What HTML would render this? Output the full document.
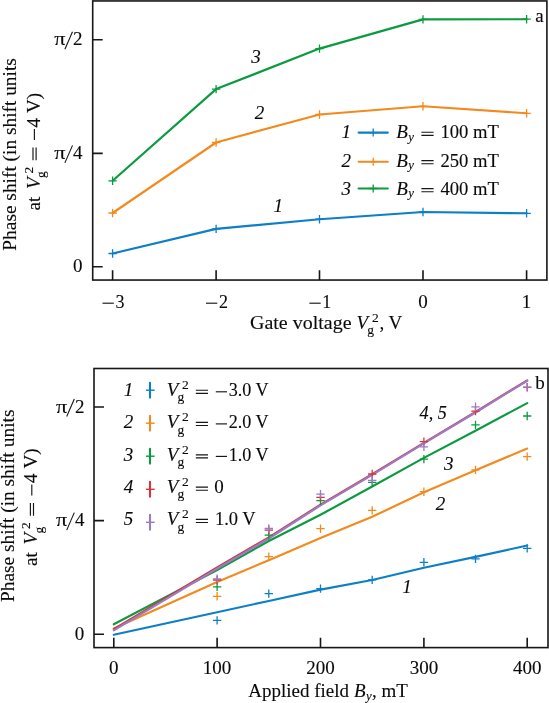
<!DOCTYPE html>
<html><head><meta charset="utf-8"><title>Phase shift</title>
<style>html,body{margin:0;padding:0;background:#fff}svg{display:block;will-change:transform}text{font-family:"Liberation Serif",serif;fill:#0a0a0a;stroke:#0a0a0a;stroke-width:.12px}.i{font-style:italic}</style></head><body>
<svg width="549" height="703" viewBox="0 0 549 703">
<rect x="92.7" y="0.95" width="454.2" height="279.1" fill="none" stroke="#161616" stroke-width="1.6"/>
<path d="M112.6 280.0V270.2M216.1 280.0V270.2M319.5 280.0V270.2M423.0 280.0V270.2M526.6 280.0V270.2M92.7 39.7H102.7M92.7 153.4H102.7M92.7 266.8H102.7" stroke="#161616" stroke-width="1.6" fill="none"/>
<path d="M102.5 303.2h11.3" stroke="#161616" stroke-width="1.15" fill="none"/>
<text x="115.4" y="307.6" font-size="19" textLength="9.0" lengthAdjust="spacingAndGlyphs">3</text>
<path d="M206.0 303.2h11.3" stroke="#161616" stroke-width="1.15" fill="none"/>
<text x="218.9" y="307.6" font-size="19" textLength="9.0" lengthAdjust="spacingAndGlyphs">2</text>
<path d="M309.4 303.2h11.3" stroke="#161616" stroke-width="1.15" fill="none"/>
<text x="322.3" y="307.6" font-size="19" textLength="9.0" lengthAdjust="spacingAndGlyphs">1</text>
<text x="423.0" y="307.6" font-size="19" text-anchor="middle">0</text>
<text x="526.6" y="307.6" font-size="19" text-anchor="middle">1</text>
<text x="54.3" y="45.3" font-size="19" textLength="11.2" lengthAdjust="spacingAndGlyphs">π</text><path d="M64.9 49.2L72.5 31.7" stroke="#161616" stroke-width="1.1" fill="none"/><text x="82.6" y="45.3" font-size="19" text-anchor="end">2</text>
<text x="54.3" y="159.0" font-size="19" textLength="11.2" lengthAdjust="spacingAndGlyphs">π</text><path d="M64.9 162.9L72.5 145.4" stroke="#161616" stroke-width="1.1" fill="none"/><text x="82.6" y="159.0" font-size="19" text-anchor="end">4</text>
<text x="82.4" y="272.4" font-size="19" text-anchor="end">0</text>
<polyline points="112.6,253.5 216.1,228.9 319.5,219.2 423.0,212.0 526.6,213.3" stroke="#0c7fc6" stroke-width="2.15" fill="none" stroke-linejoin="round" stroke-linecap="round"/>
<path d="M108.4 253.5H116.8M112.6 249.3V257.7" stroke="#0c7fc6" stroke-width="1.3" fill="none"/>
<path d="M211.9 228.9H220.3M216.1 224.7V233.1" stroke="#0c7fc6" stroke-width="1.3" fill="none"/>
<path d="M315.3 219.2H323.7M319.5 215.0V223.4" stroke="#0c7fc6" stroke-width="1.3" fill="none"/>
<path d="M418.8 212.0H427.2M423.0 207.8V216.2" stroke="#0c7fc6" stroke-width="1.3" fill="none"/>
<path d="M522.4 213.3H530.8M526.6 209.1V217.5" stroke="#0c7fc6" stroke-width="1.3" fill="none"/>
<polyline points="112.6,213.0 216.1,142.5 319.5,114.5 423.0,106.3 526.6,113.3" stroke="#f28a1e" stroke-width="2.15" fill="none" stroke-linejoin="round" stroke-linecap="round"/>
<path d="M108.4 213.0H116.8M112.6 208.8V217.2" stroke="#f28a1e" stroke-width="1.3" fill="none"/>
<path d="M211.9 142.5H220.3M216.1 138.3V146.7" stroke="#f28a1e" stroke-width="1.3" fill="none"/>
<path d="M315.3 114.5H323.7M319.5 110.3V118.7" stroke="#f28a1e" stroke-width="1.3" fill="none"/>
<path d="M418.8 106.3H427.2M423.0 102.1V110.5" stroke="#f28a1e" stroke-width="1.3" fill="none"/>
<path d="M522.4 113.3H530.8M526.6 109.1V117.5" stroke="#f28a1e" stroke-width="1.3" fill="none"/>
<polyline points="112.6,180.8 216.1,89.1 319.5,48.6 423.0,19.4 526.6,19.2" stroke="#0b9a3f" stroke-width="2.15" fill="none" stroke-linejoin="round" stroke-linecap="round"/>
<path d="M108.4 180.8H116.8M112.6 176.6V185.0" stroke="#0b9a3f" stroke-width="1.3" fill="none"/>
<path d="M211.9 89.1H220.3M216.1 84.9V93.3" stroke="#0b9a3f" stroke-width="1.3" fill="none"/>
<path d="M315.3 48.6H323.7M319.5 44.4V52.8" stroke="#0b9a3f" stroke-width="1.3" fill="none"/>
<path d="M418.8 19.4H427.2M423.0 15.2V23.6" stroke="#0b9a3f" stroke-width="1.3" fill="none"/>
<path d="M522.4 19.2H530.8M526.6 15.0V23.4" stroke="#0b9a3f" stroke-width="1.3" fill="none"/>
<text x="256.1" y="62.8" font-size="19" class="i" text-anchor="middle">3</text>
<text x="259.5" y="118.5" font-size="19" class="i" text-anchor="middle">2</text>
<text x="278.2" y="211.5" font-size="19" class="i" text-anchor="middle">1</text>
<text x="535.2" y="21.5" font-size="19">a</text>
<text x="346.2" y="138.2" font-size="19" class="i" text-anchor="middle">1</text>
<path d="M358.6 132.6H387.8" stroke="#0c7fc6" stroke-width="2.05" stroke-linecap="round"/>
<path d="M369.2 132.6H377.2M373.2 128.6V136.6" stroke="#0c7fc6" stroke-width="1.3" fill="none"/>
<text x="396.2" y="138.2" font-size="19" class="i">B</text><text x="408.2" y="140.8" font-size="12.8" class="i">y</text>
<path d="M421.4 132.2h12.2M421.4 135.3h12.2" stroke="#161616" stroke-width="1.15" fill="none"/>
<text x="440.4" y="138.2" font-size="19" textLength="58.4" lengthAdjust="spacingAndGlyphs">100 mT</text>
<text x="346.2" y="166.6" font-size="19" class="i" text-anchor="middle">2</text>
<path d="M358.6 161.7H387.8" stroke="#f28a1e" stroke-width="2.05" stroke-linecap="round"/>
<path d="M369.2 161.7H377.2M373.2 157.7V165.7" stroke="#f28a1e" stroke-width="1.3" fill="none"/>
<text x="396.2" y="166.6" font-size="19" class="i">B</text><text x="408.2" y="169.2" font-size="12.8" class="i">y</text>
<path d="M421.4 160.6h12.2M421.4 163.7h12.2" stroke="#161616" stroke-width="1.15" fill="none"/>
<text x="440.4" y="166.6" font-size="19" textLength="58.4" lengthAdjust="spacingAndGlyphs">250 mT</text>
<text x="346.2" y="194.6" font-size="19" class="i" text-anchor="middle">3</text>
<path d="M358.6 188.5H387.8" stroke="#0b9a3f" stroke-width="2.05" stroke-linecap="round"/>
<path d="M369.2 188.5H377.2M373.2 184.5V192.5" stroke="#0b9a3f" stroke-width="1.3" fill="none"/>
<text x="396.2" y="194.6" font-size="19" class="i">B</text><text x="408.2" y="197.2" font-size="12.8" class="i">y</text>
<path d="M421.4 188.6h12.2M421.4 191.7h12.2" stroke="#161616" stroke-width="1.15" fill="none"/>
<text x="440.4" y="194.6" font-size="19" textLength="58.4" lengthAdjust="spacingAndGlyphs">400 mT</text>
<text x="250.0" y="329.0" font-size="19" textLength="101.5" lengthAdjust="spacingAndGlyphs">Gate voltage</text>
<text x="356.5" y="329.0" font-size="19" class="i" textLength="11.6" lengthAdjust="spacingAndGlyphs">V</text><text x="367.3" y="334.2" font-size="13.5">g</text><text x="371.9" y="322.0" font-size="13.5">2</text>
<text x="379.4" y="329.0" font-size="19">, V</text>
<g transform="translate(0 154.4) rotate(-90)"><text x="0.0" y="16.3" font-size="19" text-anchor="middle" textLength="192.5" lengthAdjust="spacingAndGlyphs">Phase shift (in shift units</text></g><g transform="translate(0 153.8) rotate(-90)"><text x="-56.7" y="39.9" font-size="19">at</text><text x="-35.1" y="39.9" font-size="19" class="i" textLength="11.6" lengthAdjust="spacingAndGlyphs">V</text><text x="-24.3" y="45.1" font-size="13.5">g</text><text x="-19.7" y="32.9" font-size="13.5">2</text><path d="M-6.4 33.0h12.6M-6.4 36.1h12.6" stroke="#161616" stroke-width="1.15" fill="none"/><path d="M13.9 34.4h10.8" stroke="#161616" stroke-width="1.15" fill="none"/><text x="26.4" y="39.9" font-size="19">4</text><text x="40.9" y="39.9" font-size="19">V)</text></g>
<rect x="94.0" y="368.5" width="454.0" height="279.1" fill="none" stroke="#161616" stroke-width="1.6"/>
<path d="M113.8 647.6V637.8M217.1 647.6V637.8M320.5 647.6V637.8M423.9 647.6V637.8M527.2 647.6V637.8M94.0 407.0H104.0M94.0 520.6H104.0M94.0 634.3H104.0" stroke="#161616" stroke-width="1.6" fill="none"/>
<text x="113.8" y="674.0" font-size="19" text-anchor="middle">0</text>
<text x="217.1" y="674.0" font-size="19" text-anchor="middle">100</text>
<text x="320.5" y="674.0" font-size="19" text-anchor="middle">200</text>
<text x="423.9" y="674.0" font-size="19" text-anchor="middle">300</text>
<text x="527.2" y="674.0" font-size="19" text-anchor="middle">400</text>
<text x="56.1" y="412.6" font-size="19" textLength="11.2" lengthAdjust="spacingAndGlyphs">π</text><path d="M66.7 416.5L74.3 399.0" stroke="#161616" stroke-width="1.1" fill="none"/><text x="84.4" y="412.6" font-size="19" text-anchor="end">2</text>
<text x="56.1" y="526.2" font-size="19" textLength="11.2" lengthAdjust="spacingAndGlyphs">π</text><path d="M66.7 530.1L74.3 512.6" stroke="#161616" stroke-width="1.1" fill="none"/><text x="84.4" y="526.2" font-size="19" text-anchor="end">4</text>
<text x="84.2" y="639.9" font-size="19" text-anchor="end">0</text>
<polyline points="113.8,634.7 217.1,612.2 268.8,601.0 320.5,589.6 372.2,580.0 423.9,567.7 475.5,556.9 527.2,545.5" stroke="#0c7fc6" stroke-width="2.15" fill="none" stroke-linejoin="round" stroke-linecap="round"/>
<polyline points="113.8,628.4 217.1,582.0 268.8,560.2 320.5,538.0 372.2,516.8 423.9,492.3 475.5,470.2 527.2,448.6" stroke="#f28a1e" stroke-width="2.15" fill="none" stroke-linejoin="round" stroke-linecap="round"/>
<polyline points="113.8,624.3 217.1,570.1 268.8,541.0 320.5,514.8 372.2,486.5 423.9,457.9 475.5,430.8 527.2,403.1" stroke="#0b9a3f" stroke-width="2.15" fill="none" stroke-linejoin="round" stroke-linecap="round"/>
<polyline points="113.8,629.2 217.1,567.4 268.8,537.4 320.5,504.7 372.2,474.2 423.9,442.8 475.5,412.0 527.2,380.3" stroke="#d4373b" stroke-width="2.15" fill="none" stroke-linejoin="round" stroke-linecap="round"/>
<polyline points="113.8,630.3 217.1,568.7 268.8,538.5 320.5,505.4 372.2,474.9 423.9,443.4 475.5,412.5 527.2,380.8" stroke="#9b7bc5" stroke-width="2.15" fill="none" stroke-linejoin="round" stroke-linecap="round"/>
<path d="M212.9 620.4H221.3M217.1 616.2V624.6" stroke="#0c7fc6" stroke-width="1.3" fill="none"/>
<path d="M264.6 593.6H273.0M268.8 589.4V597.8" stroke="#0c7fc6" stroke-width="1.3" fill="none"/>
<path d="M316.3 588.6H324.7M320.5 584.4V592.8" stroke="#0c7fc6" stroke-width="1.3" fill="none"/>
<path d="M368.0 579.9H376.4M372.2 575.7V584.1" stroke="#0c7fc6" stroke-width="1.3" fill="none"/>
<path d="M419.7 562.3H428.1M423.9 558.1V566.5" stroke="#0c7fc6" stroke-width="1.3" fill="none"/>
<path d="M471.3 558.9H479.7M475.5 554.7V563.1" stroke="#0c7fc6" stroke-width="1.3" fill="none"/>
<path d="M523.0 548.4H531.4M527.2 544.2V552.6" stroke="#0c7fc6" stroke-width="1.3" fill="none"/>
<path d="M212.9 596.3H221.3M217.1 592.1V600.5" stroke="#f28a1e" stroke-width="1.3" fill="none"/>
<path d="M264.6 556.6H273.0M268.8 552.4V560.8" stroke="#f28a1e" stroke-width="1.3" fill="none"/>
<path d="M316.3 528.7H324.7M320.5 524.5V532.9" stroke="#f28a1e" stroke-width="1.3" fill="none"/>
<path d="M368.0 510.4H376.4M372.2 506.2V514.6" stroke="#f28a1e" stroke-width="1.3" fill="none"/>
<path d="M419.7 491.7H428.1M423.9 487.5V495.9" stroke="#f28a1e" stroke-width="1.3" fill="none"/>
<path d="M471.3 469.9H479.7M475.5 465.7V474.1" stroke="#f28a1e" stroke-width="1.3" fill="none"/>
<path d="M523.0 456.6H531.4M527.2 452.4V460.8" stroke="#f28a1e" stroke-width="1.3" fill="none"/>
<path d="M212.9 586.8H221.3M217.1 582.6V591.0" stroke="#0b9a3f" stroke-width="1.3" fill="none"/>
<path d="M264.6 535.2H273.0M268.8 531.0V539.4" stroke="#0b9a3f" stroke-width="1.3" fill="none"/>
<path d="M316.3 500.7H324.7M320.5 496.5V504.9" stroke="#0b9a3f" stroke-width="1.3" fill="none"/>
<path d="M368.0 482.4H376.4M372.2 478.2V486.6" stroke="#0b9a3f" stroke-width="1.3" fill="none"/>
<path d="M419.7 459.1H428.1M423.9 454.9V463.3" stroke="#0b9a3f" stroke-width="1.3" fill="none"/>
<path d="M471.3 424.9H479.7M475.5 420.7V429.1" stroke="#0b9a3f" stroke-width="1.3" fill="none"/>
<path d="M523.0 416.0H531.4M527.2 411.8V420.2" stroke="#0b9a3f" stroke-width="1.3" fill="none"/>
<path d="M212.9 580.0H221.3M217.1 575.8V584.2" stroke="#d4373b" stroke-width="1.3" fill="none"/>
<path d="M264.6 530.1H273.0M268.8 525.9V534.3" stroke="#d4373b" stroke-width="1.3" fill="none"/>
<path d="M316.3 497.3H324.7M320.5 493.1V501.5" stroke="#d4373b" stroke-width="1.3" fill="none"/>
<path d="M368.0 474.0H376.4M372.2 469.8V478.2" stroke="#d4373b" stroke-width="1.3" fill="none"/>
<path d="M419.7 441.6H428.1M423.9 437.4V445.8" stroke="#d4373b" stroke-width="1.3" fill="none"/>
<path d="M471.3 411.1H479.7M475.5 406.9V415.3" stroke="#d4373b" stroke-width="1.3" fill="none"/>
<path d="M523.0 387.3H531.4M527.2 383.1V391.5" stroke="#d4373b" stroke-width="1.3" fill="none"/>
<path d="M212.9 578.8H221.3M217.1 574.6V583.0" stroke="#9b7bc5" stroke-width="1.3" fill="none"/>
<path d="M264.6 528.5H273.0M268.8 524.3V532.7" stroke="#9b7bc5" stroke-width="1.3" fill="none"/>
<path d="M316.3 494.2H324.7M320.5 490.0V498.4" stroke="#9b7bc5" stroke-width="1.3" fill="none"/>
<path d="M368.0 480.3H376.4M372.2 476.1V484.5" stroke="#9b7bc5" stroke-width="1.3" fill="none"/>
<path d="M419.7 446.8H428.1M423.9 442.6V451.0" stroke="#9b7bc5" stroke-width="1.3" fill="none"/>
<path d="M471.3 406.8H479.7M475.5 402.6V411.0" stroke="#9b7bc5" stroke-width="1.3" fill="none"/>
<path d="M523.0 387.1H531.4M527.2 382.9V391.3" stroke="#9b7bc5" stroke-width="1.3" fill="none"/>
<text x="419.6" y="418.5" font-size="19" class="i" textLength="27.3" lengthAdjust="spacingAndGlyphs">4, 5</text>
<text x="448.8" y="470.1" font-size="19" class="i" text-anchor="middle">3</text>
<text x="440.6" y="510.0" font-size="19" class="i" text-anchor="middle">2</text>
<text x="407.0" y="593.3" font-size="19" class="i" text-anchor="middle">1</text>
<text x="535.2" y="388.6" font-size="19">b</text>
<text x="128.6" y="396.2" font-size="19" class="i" text-anchor="middle">1</text>
<path d="M150 382.8V397.6" stroke="#0c7fc6" stroke-width="2.1" stroke-linecap="round" fill="none"/><path d="M145.9 390.2H154.7" stroke="#0c7fc6" stroke-width="1.4" fill="none"/>
<text x="166.7" y="396.2" font-size="19" class="i" textLength="11.6" lengthAdjust="spacingAndGlyphs">V</text><text x="177.5" y="401.4" font-size="13.5">g</text><text x="182.1" y="389.2" font-size="13.5">2</text>
<path d="M195.8 390.2h12.2M195.8 393.3h12.2" stroke="#161616" stroke-width="1.15" fill="none"/>
<path d="M215.8 391.8h11.2" stroke="#161616" stroke-width="1.15" fill="none"/>
<text x="228.7" y="396.2" font-size="19" textLength="39.9" lengthAdjust="spacingAndGlyphs">3.0 V</text>
<text x="128.6" y="428.4" font-size="19" class="i" text-anchor="middle">2</text>
<path d="M150 415.8V430.6" stroke="#f28a1e" stroke-width="2.1" stroke-linecap="round" fill="none"/><path d="M145.9 423.2H154.7" stroke="#f28a1e" stroke-width="1.4" fill="none"/>
<text x="166.7" y="428.4" font-size="19" class="i" textLength="11.6" lengthAdjust="spacingAndGlyphs">V</text><text x="177.5" y="433.6" font-size="13.5">g</text><text x="182.1" y="421.4" font-size="13.5">2</text>
<path d="M195.8 422.4h12.2M195.8 425.5h12.2" stroke="#161616" stroke-width="1.15" fill="none"/>
<path d="M215.8 423.9h11.2" stroke="#161616" stroke-width="1.15" fill="none"/>
<text x="228.7" y="428.4" font-size="19" textLength="39.9" lengthAdjust="spacingAndGlyphs">2.0 V</text>
<text x="128.6" y="460.8" font-size="19" class="i" text-anchor="middle">3</text>
<path d="M150 448.8V463.6" stroke="#0b9a3f" stroke-width="2.1" stroke-linecap="round" fill="none"/><path d="M145.9 456.2H154.7" stroke="#0b9a3f" stroke-width="1.4" fill="none"/>
<text x="166.7" y="460.8" font-size="19" class="i" textLength="11.6" lengthAdjust="spacingAndGlyphs">V</text><text x="177.5" y="466.0" font-size="13.5">g</text><text x="182.1" y="453.8" font-size="13.5">2</text>
<path d="M195.8 454.8h12.2M195.8 457.9h12.2" stroke="#161616" stroke-width="1.15" fill="none"/>
<path d="M215.8 456.4h11.2" stroke="#161616" stroke-width="1.15" fill="none"/>
<text x="228.7" y="460.8" font-size="19" textLength="39.9" lengthAdjust="spacingAndGlyphs">1.0 V</text>
<text x="128.6" y="493.1" font-size="19" class="i" text-anchor="middle">4</text>
<path d="M150 481.9V496.7" stroke="#d4373b" stroke-width="2.1" stroke-linecap="round" fill="none"/><path d="M145.9 489.3H154.7" stroke="#d4373b" stroke-width="1.4" fill="none"/>
<text x="166.7" y="493.1" font-size="19" class="i" textLength="11.6" lengthAdjust="spacingAndGlyphs">V</text><text x="177.5" y="498.3" font-size="13.5">g</text><text x="182.1" y="486.1" font-size="13.5">2</text>
<path d="M195.8 487.1h12.2M195.8 490.2h12.2" stroke="#161616" stroke-width="1.15" fill="none"/>
<text x="214.3" y="493.1" font-size="19">0</text>
<text x="128.6" y="525.4" font-size="19" class="i" text-anchor="middle">5</text>
<path d="M150 514.9V529.7" stroke="#9b7bc5" stroke-width="2.1" stroke-linecap="round" fill="none"/><path d="M145.9 522.3H154.7" stroke="#9b7bc5" stroke-width="1.4" fill="none"/>
<text x="166.7" y="525.4" font-size="19" class="i" textLength="11.6" lengthAdjust="spacingAndGlyphs">V</text><text x="177.5" y="530.6" font-size="13.5">g</text><text x="182.1" y="518.4" font-size="13.5">2</text>
<path d="M195.8 519.4h12.2M195.8 522.5h12.2" stroke="#161616" stroke-width="1.15" fill="none"/>
<text x="215.0" y="525.4" font-size="19" textLength="40.7" lengthAdjust="spacingAndGlyphs">1.0 V</text>
<text x="248.3" y="697.1" font-size="19" textLength="100.7" lengthAdjust="spacingAndGlyphs">Applied field</text>
<text x="354.1" y="697.1" font-size="19" class="i">B</text><text x="366.1" y="699.7" font-size="12.8" class="i">y</text>
<text x="372.1" y="697.1" font-size="19">, mT</text>
<g transform="translate(0 505.8) rotate(-90)"><text x="0.0" y="14.1" font-size="19" text-anchor="middle" textLength="192.5" lengthAdjust="spacingAndGlyphs">Phase shift (in shift units</text></g><g transform="translate(0 509.3) rotate(-90)"><text x="-56.7" y="37.3" font-size="19">at</text><text x="-35.1" y="37.3" font-size="19" class="i" textLength="11.6" lengthAdjust="spacingAndGlyphs">V</text><text x="-24.3" y="42.5" font-size="13.5">g</text><text x="-19.7" y="30.3" font-size="13.5">2</text><path d="M-6.4 30.4h12.6M-6.4 33.5h12.6" stroke="#161616" stroke-width="1.15" fill="none"/><path d="M13.9 31.8h10.8" stroke="#161616" stroke-width="1.15" fill="none"/><text x="26.4" y="37.3" font-size="19">4</text><text x="40.9" y="37.3" font-size="19">V)</text></g>
</svg></body></html>
